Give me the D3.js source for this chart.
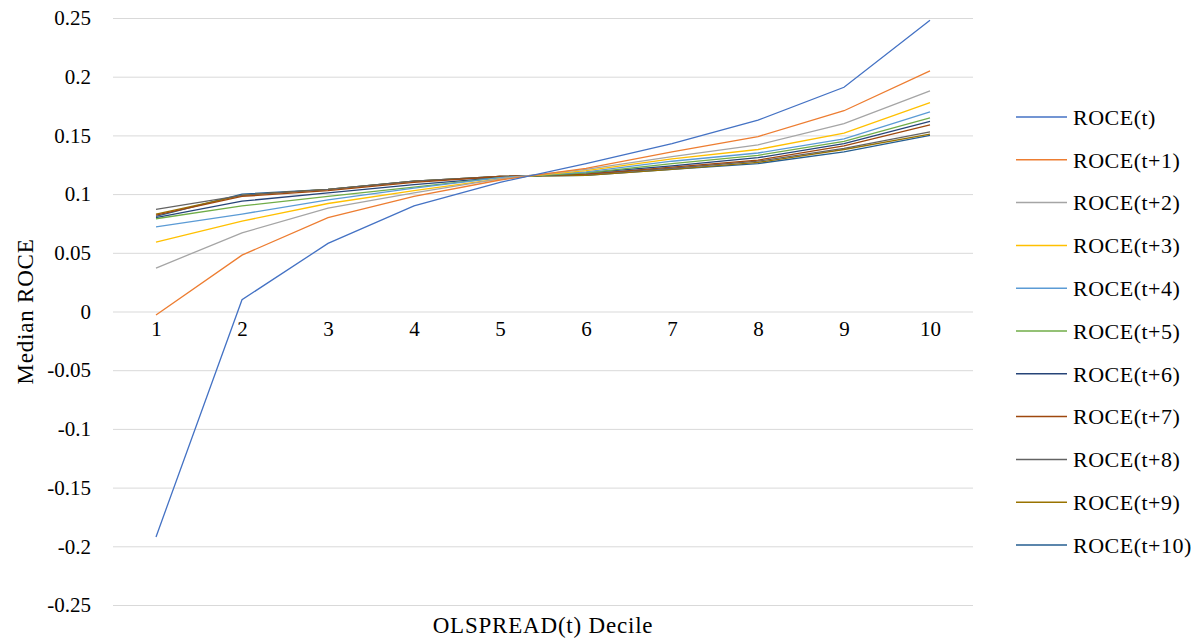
<!DOCTYPE html>
<html>
<head>
<meta charset="utf-8">
<script src="https://cdn.jsdelivr.net/npm/d3@7"></script>
<style>
  body { margin: 0; background: #fff; }
  text { font-family: "Liberation Serif", "Times New Roman", serif; fill: #000; }
</style>
</head>
<body>
<div id="chart"></div>
<script>
// deciles on the x axis
var deciles = [1, 2, 3, 4, 5, 6, 7, 8, 9, 10];
var yTicks = [0.25, 0.2, 0.15, 0.1, 0.05, 0, -0.05, -0.1, -0.15, -0.2, -0.25];

var seriesNames = ["ROCE(t)", "ROCE(t+1)", "ROCE(t+2)", "ROCE(t+3)", "ROCE(t+4)", "ROCE(t+5)",
                   "ROCE(t+6)", "ROCE(t+7)", "ROCE(t+8)", "ROCE(t+9)", "ROCE(t+10)"];
var colors = ["#4472C4", "#ED7D31", "#A5A5A5", "#FFC000", "#5B9BD5", "#70AD47",
              "#264478", "#9E480E", "#636363", "#997300", "#255E91"];

// median ROCE per decile, one array per horizon
var roce0  = [-0.192, 0.010, 0.058, 0.090, 0.110, 0.126, 0.143, 0.163, 0.191, 0.248];
var roce1  = [-0.003, 0.048, 0.080, 0.098, 0.112, 0.122, 0.136, 0.149, 0.171, 0.205];
var roce2  = [0.037, 0.067, 0.088, 0.101, 0.113, 0.121, 0.132, 0.142, 0.160, 0.188];
var roce3  = [0.059, 0.077, 0.092, 0.103, 0.113, 0.120, 0.130, 0.138, 0.152, 0.178];
var roce4  = [0.072, 0.083, 0.095, 0.105, 0.114, 0.119, 0.128, 0.135, 0.147, 0.170];
var roce5  = [0.079, 0.090, 0.098, 0.106, 0.114, 0.118, 0.126, 0.133, 0.145, 0.165];
var roce6  = [0.080, 0.094, 0.101, 0.108, 0.114, 0.118, 0.124, 0.131, 0.143, 0.162];
var roce7  = [0.082, 0.098, 0.103, 0.110, 0.115, 0.117, 0.123, 0.129, 0.141, 0.159];
var roce8  = [0.087, 0.099, 0.104, 0.111, 0.115, 0.117, 0.122, 0.128, 0.139, 0.153];
var roce9  = [0.083, 0.099, 0.104, 0.111, 0.115, 0.116, 0.121, 0.127, 0.138, 0.151];
var roce10 = [0.081, 0.100, 0.104, 0.111, 0.115, 0.116, 0.121, 0.126, 0.136, 0.150];

var allValues = [roce0, roce1, roce2, roce3, roce4, roce5, roce6, roce7, roce8, roce9, roce10];

var series = seriesNames.map(function(name, i) {
  return { name: name, color: colors[i], values: allValues[i] };
});

var width = 1203, height = 641;
var margin = {top: 18, right: 230, bottom: 36, left: 113};
var w = width - margin.left - margin.right,
    h = height - margin.top - margin.bottom;

var x = d3.scalePoint().domain(deciles).range([0, w]).padding(0.5);
var y = d3.scaleLinear().domain([-0.25, 0.25]).range([h, 0]);

var svg = d3.select("#chart").append("svg")
    .attr("width", width)
    .attr("height", height);

var g = svg.append("g")
    .attr("transform", "translate(" + margin.left + "," + margin.top + ")");

// gridlines + y labels
var yAxis = d3.axisLeft(y).tickValues(yTicks).tickSize(-w).tickPadding(22)
    .tickFormat(function(d) { return d === 0 ? "0" : String(+d.toFixed(2)); });

g.append("g")
    .attr("class", "y axis")
    .call(yAxis)
    .call(function(s) {
      s.select(".domain").remove();
      s.selectAll(".tick line").attr("stroke", "#d9d9d9").attr("stroke-width", 1);
      s.selectAll(".tick text").style("font-size", "21px");
    });

// category labels sit just under the zero line
g.append("g")
    .attr("class", "x axis")
    .attr("transform", "translate(0," + y(0) + ")")
    .call(d3.axisBottom(x).tickSize(0).tickPadding(10))
    .call(function(s) {
      s.select(".domain").remove();
      s.selectAll(".tick text").style("font-size", "21px");
    });

var line = d3.line()
    .x(function(d, i) { return x(deciles[i]); })
    .y(function(d) { return y(d); });

g.selectAll(".series")
    .data(series.slice().reverse())
    .enter()
    .append("path")
    .attr("class", "series")
    .attr("fill", "none")
    .attr("stroke", function(d) { return d.color; })
    .attr("stroke-width", 1.3)
    .attr("d", function(d) { return line(d.values); });

// axis titles (Garamond in the original is wider, so stretch a little)
svg.append("text")
    .attr("text-anchor", "middle")
    .attr("x", margin.left + w / 2)
    .attr("y", 633)
    .style("font-size", "23px")
    .style("letter-spacing", "0.8px")
    .text("OLSPREAD(t) Decile");

svg.append("text")
    .attr("text-anchor", "middle")
    .attr("transform", "translate(33," + (margin.top + y(0)) + ") rotate(-90)")
    .style("font-size", "23px")
    .style("letter-spacing", "0.8px")
    .text("Median ROCE");

// legend
var legend = svg.append("g")
    .attr("transform", "translate(1016,117)");

var item = legend.selectAll(".item")
    .data(series)
    .enter()
    .append("g")
    .attr("class", "item")
    .attr("transform", function(d, i) { return "translate(0," + (i * 42.8) + ")"; });

item.append("line")
    .attr("x1", 0).attr("x2", 51)
    .attr("stroke", function(d) { return d.color; })
    .attr("stroke-width", 1.5);

item.append("text")
    .attr("x", 57)
    .attr("dy", "0.35em")
    .style("font-size", "22px")
    .style("letter-spacing", "0.5px")
    .text(function(d) { return d.name; });
</script>
</body>
</html>
